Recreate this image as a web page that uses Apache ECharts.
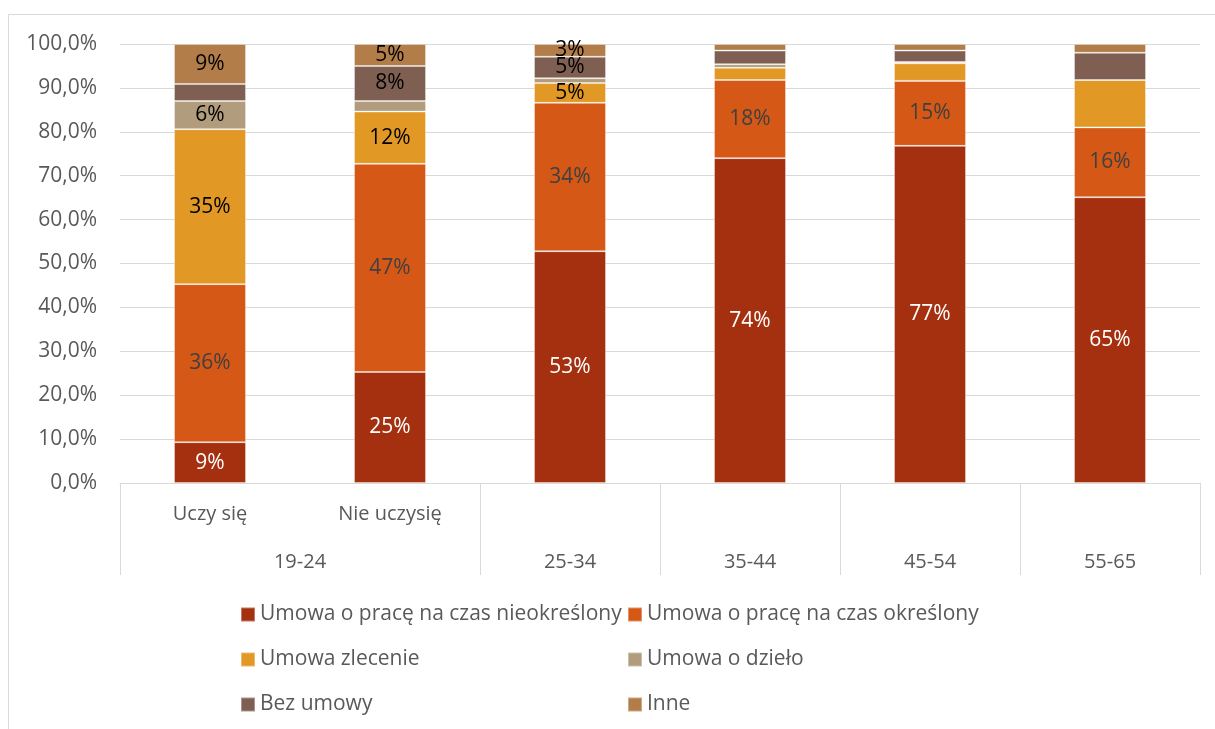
<!DOCTYPE html>
<html>
<head>
<meta charset="utf-8">
<script src="https://cdn.jsdelivr.net/npm/echarts@6/dist/echarts.min.js"></script>
<style>
  html, body { margin: 0; padding: 0; background: #fff; }
  #chart { width: 1215px; height: 729px; }
</style>
</head>
<body>
<div id="chart"></div>
<script>
// Bars: first level of the category axis (education status) and the age groups below it
const categories = ['Uczy się', 'Nie uczysię', '', '', '', ''];
const ageGroups = ['19-24', '25-34', '35-44', '45-54', '55-65'];
const yTicks = [0, 10, 20, 30, 40, 50, 60, 70, 80, 90, 100];

// Share of each contract type (%), one value per bar
const seriesNames = [
  'Umowa o pracę na czas nieokreślony',
  'Umowa o pracę na czas określony',
  'Umowa zlecenie',
  'Umowa o dzieło',
  'Bez umowy',
  'Inne'
];
const nieokreslony = [9.3, 25.3, 52.8, 74.0, 76.8, 65.1];
const okreslony    = [36.0, 47.4, 33.8, 17.8, 14.8, 15.9];
const zlecenie     = [35.3, 11.9, 4.5, 2.8, 4.0, 10.8];
const dzielo       = [6.4, 2.4, 1.1, 0.8, 0.3, 0.0];
const bezUmowy     = [3.9, 8.0, 4.9, 3.1, 2.6, 6.2];
const inne         = [9.1, 5.0, 2.9, 1.5, 1.5, 2.0];

// Which bars carry a value label, per series (column indices)
const labelled = [
  [0, 1, 2, 3, 4, 5],
  [0, 1, 2, 3, 4, 5],
  [0, 1, 2],
  [0],
  [1, 2],
  [0, 1, 2]
];

const values = [nieokreslony, okreslony, zlecenie, dzielo, bezUmowy, inne];
const colors = ['#A5300F', '#D55816', '#E19825', '#B19C7D', '#7F5F52', '#B27D49'];
const labelColors = ['#ffffff', '#404040', '#000000', '#000000', '#000000', '#000000'];
const FONT = 'Open Sans';

const chart = echarts.init(document.getElementById('chart'), null, { renderer: 'canvas' });

const series = seriesNames.map((name, s) => ({
  name,
  type: 'bar',
  stack: 'total',
  xAxisIndex: 0,
  barWidth: '40%',
  itemStyle: { color: colors[s], borderColor: 'rgba(255,255,255,0.35)', borderWidth: 1 },
  label: {
    show: true,
    position: 'inside',
    color: labelColors[s],
    fontFamily: FONT,
    fontSize: 21,
    formatter: p => labelled[s].includes(p.dataIndex) ? Math.round(p.value) + '%' : ''
  },
  emphasis: { disabled: true },
  data: values[s]
}));

const legendText = { color: '#595959', fontFamily: FONT, fontSize: 21, lineHeight: 21 };

chart.setOption({
  animation: false,
  backgroundColor: '#fff',
  textStyle: { fontFamily: FONT },
  grid: { left: 120, right: 15, top: 44, bottom: 246, containLabel: false },
  graphic: [{
    type: 'rect',
    shape: { x: 8.5, y: 14.5, width: 1230, height: 740 },
    style: { fill: 'none', stroke: '#d9d9d9', lineWidth: 1 },
    silent: true
  }],
  legend: [
    {
      orient: 'vertical', left: 235, top: 599, itemWidth: 14, itemHeight: 14, itemGap: 24,
      icon: 'rect', textStyle: legendText,
      data: [seriesNames[0], seriesNames[2], seriesNames[4]]
    },
    {
      orient: 'vertical', left: 622, top: 599, itemWidth: 14, itemHeight: 14, itemGap: 24,
      icon: 'rect', textStyle: legendText,
      data: [seriesNames[1], seriesNames[3], seriesNames[5]]
    }
  ],
  xAxis: [
    {
      type: 'category',
      data: categories,
      position: 'bottom',
      axisLine: { show: true, lineStyle: { color: '#d9d9d9', width: 1 } },
      axisTick: { show: false },
      axisLabel: { color: '#595959', fontSize: 20, fontFamily: FONT, margin: 21, interval: 0 }
    },
    {
      type: 'value',
      min: 0,
      max: 6,
      position: 'bottom',
      axisLine: { show: false },
      splitLine: { show: false },
      axisTick: {
        show: true,
        length: 92,
        customValues: [0, 2, 3, 4, 5, 6],
        lineStyle: { color: '#d9d9d9', width: 1 }
      },
      axisLabel: {
        show: true,
        margin: 69,
        color: '#595959',
        fontSize: 20,
        fontFamily: FONT,
        customValues: [1, 2.5, 3.5, 4.5, 5.5],
        formatter: v => ({ 1: ageGroups[0], 2.5: ageGroups[1], 3.5: ageGroups[2], 4.5: ageGroups[3], 5.5: ageGroups[4] })[v] || ''
      }
    }
  ],
  yAxis: {
    type: 'value',
    min: yTicks[0],
    max: yTicks[yTicks.length - 1],
    interval: yTicks[1] - yTicks[0],
    axisLine: { show: false },
    axisTick: { show: false },
    splitLine: { lineStyle: { color: '#d9d9d9', width: 1 } },
    axisLabel: {
      color: '#595959',
      fontSize: 21,
      fontFamily: FONT,
      margin: 23,
      formatter: v => v.toFixed(1).replace('.', ',') + '%'
    }
  },
  series
});
</script>
</body>
</html>
